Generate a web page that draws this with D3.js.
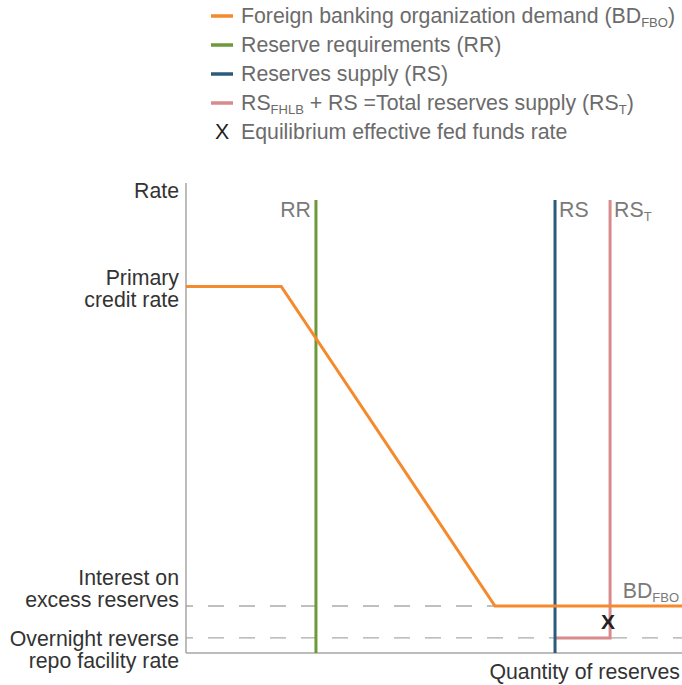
<!DOCTYPE html>
<html><head><meta charset="utf-8">
<script src="https://cdn.jsdelivr.net/npm/d3@7"></script>
<style>body{margin:0;background:#fff}svg{display:block}</style>
</head><body>
<svg id="chart" width="682" height="685"></svg>
<script>
// Data (abstract units: quantity 0-100, rate 0-100)
const demandX = [0, 19.2, 62.3, 100];
const demandY = [78, 78, 10, 10];
const rrX = 26.2;
const rsX = 74.4;
const rstX = 85.5;
const lineTop = 96.4;
const ioerRate = 10;
const onrrpRate = 3.2;
const primaryRate = 78;
const eqPoint = [85.1, 6.6];
const legendItems = [
  {key: "bd", label: "Foreign banking organization demand (BD", sub: "FBO", tail: ")"},
  {key: "rr", label: "Reserve requirements (RR)"},
  {key: "rs", label: "Reserves supply (RS)"},
  {key: "rst", label: "RS", sub: "FHLB", tail: " + RS =Total reserves supply (RS", sub2: "T", tail2: ")"},
  {key: "x", label: "Equilibrium effective fed funds rate"}
];
const colors = {bd: "#f5892b", rr: "#6e993b", rs: "#2a5b7b", rst: "#d88a8d"};

const svg = d3.select("#chart");
const x = d3.scaleLinear().domain([0, 100]).range([186, 682]);
const y = d3.scaleLinear().domain([0, 100]).range([653, 183]);
const font = "'Liberation Sans', Arial, sans-serif";
const FS = 21.3, SUB = 13;

// dashed reference lines
[ioerRate, onrrpRate].forEach(r => {
  svg.append("line").attr("x1", x(0)).attr("x2", x(100)).attr("y1", y(r)).attr("y2", y(r))
    .attr("stroke", "#aaa").attr("stroke-width", 1.3).attr("stroke-dasharray", "16,15").attr("stroke-dashoffset", 9);
});

// axes
svg.append("line").attr("x1", x(0)).attr("x2", x(0)).attr("y1", y(100)).attr("y2", y(0)).attr("stroke", "#a6a6a6").attr("stroke-width", 1.5);
svg.append("line").attr("x1", x(0)).attr("x2", x(100)).attr("y1", y(0)).attr("y2", y(0)).attr("stroke", "#a6a6a6").attr("stroke-width", 1.5);

// RS_T horizontal + vertical
svg.append("path").attr("d", d3.line()([[x(rsX), y(onrrpRate)], [x(rstX), y(onrrpRate)], [x(rstX), y(lineTop)]]))
  .attr("fill", "none").attr("stroke", colors.rst).attr("stroke-width", 3);
// RR
svg.append("line").attr("x1", x(rrX)).attr("x2", x(rrX)).attr("y1", y(lineTop)).attr("y2", y(0)).attr("stroke", colors.rr).attr("stroke-width", 3);
// RS
svg.append("line").attr("x1", x(rsX)).attr("x2", x(rsX)).attr("y1", y(lineTop)).attr("y2", y(0)).attr("stroke", colors.rs).attr("stroke-width", 3);
// demand
svg.append("path").attr("d", d3.line().x(d => x(d[0])).y(d => y(d[1]))(demandX.map((v, i) => [v, demandY[i]])))
  .attr("fill", "none").attr("stroke", colors.bd).attr("stroke-width", 3);

// equilibrium X
svg.append("text").attr("x", x(eqPoint[0])).attr("y", y(eqPoint[1])).attr("text-anchor", "middle").attr("dominant-baseline", "central")
  .attr("font-family", font).attr("font-weight", "bold").attr("font-size", 21).attr("fill", "#222").text("X");

// line labels
function lbl(xp, yp, main, sub, anchor) {
  const t = svg.append("text").attr("x", xp).attr("y", yp).attr("font-family", font).attr("font-size", FS).attr("fill", "#7a7a7a").attr("text-anchor", anchor || "start");
  t.append("tspan").text(main);
  if (sub) t.append("tspan").attr("font-size", SUB).attr("dy", 4).text(sub);
  return t;
}
lbl(x(rrX) - 5, 217, "RR", null, "end");
lbl(x(rsX) + 4, 217, "RS");
lbl(x(rstX) + 4, 217, "RS", "T");
lbl(679, 598, "BD", "FBO", "end");

// axis labels
function multi(xp, yp, lines, anchor) {
  const t = svg.append("text").attr("x", xp).attr("y", yp).attr("font-family", font).attr("font-size", FS).attr("fill", "#333").attr("text-anchor", anchor);
  lines.forEach((l, i) => t.append("tspan").attr("x", xp).attr("dy", i ? 21.5 : 0).text(l));
}
multi(179, 198, ["Rate"], "end");
multi(179, 285, ["Primary", "credit rate"], "end");
multi(179, 585, ["Interest on", "excess reserves"], "end");
multi(179, 646, ["Overnight reverse", "repo facility rate"], "end");
multi(680, 679, ["Quantity of reserves"], "end");

// legend
const lg = svg.append("g");
legendItems.forEach((d, i) => {
  const yy = 16 + i * 29;
  if (d.key === "x") {
    lg.append("text").attr("x", 222).attr("y", yy + 7).attr("text-anchor", "middle").attr("font-family", font).attr("font-size", FS).attr("fill", "#222").text("X");
  } else {
    lg.append("line").attr("x1", 211).attr("x2", 233).attr("y1", yy).attr("y2", yy).attr("stroke", colors[d.key]).attr("stroke-width", 3.5);
  }
  const t = lg.append("text").attr("x", 241).attr("y", yy + 7).attr("font-family", font).attr("font-size", FS).attr("fill", "#6b6b6b");
  t.append("tspan").text(d.label);
  if (d.sub) t.append("tspan").attr("font-size", SUB).attr("dy", 4).text(d.sub);
  if (d.tail) t.append("tspan").attr("dy", -4).text(d.tail);
  if (d.sub2) t.append("tspan").attr("font-size", SUB).attr("dy", 4).text(d.sub2);
  if (d.tail2) t.append("tspan").attr("dy", -4).text(d.tail2);
});
</script>
</body></html>
